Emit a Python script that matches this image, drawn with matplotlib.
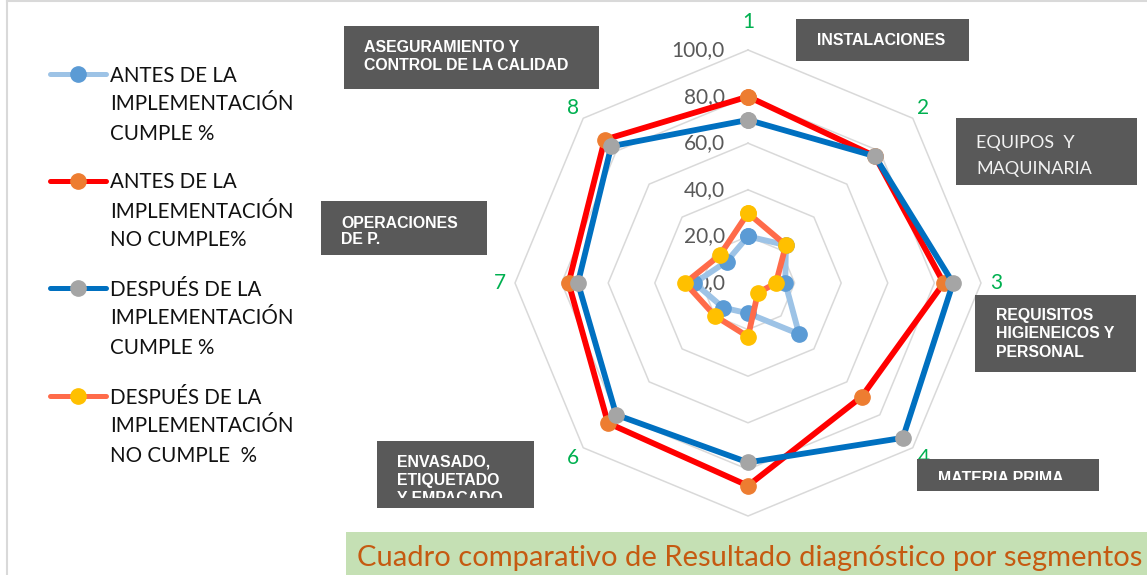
import numpy as np
import matplotlib
matplotlib.use("Agg")
import matplotlib.pyplot as plt
from matplotlib.patches import Rectangle
from matplotlib.lines import Line2D
from matplotlib.transforms import offset_copy, Bbox

# ===== Dati =====
ejes = ["1", "2", "3", "4", "5", "6", "7", "8"]
antes_cumple = [20, 23, 16, 31, 13, 15, 23, 13]
antes_no_cumple = [80, 77, 84, 69, 87, 85, 77, 87]
despues_cumple = [70, 77, 88, 94, 77, 80, 73, 83]
despues_no_cumple = [30, 23, 12, 6, 23, 20, 27, 17]
niveles = [20, 40, 60, 80, 100]
etiquetas_r = ["0,0", "20,0", "40,0", "60,0", "80,0", "100,0"]

series = [
    ("ANTES DE LA\nIMPLEMENTACIÓN\nCUMPLE %", antes_cumple, "#9DC3E6", "#5B9BD5"),
    ("ANTES DE LA\nIMPLEMENTACIÓN\nNO CUMPLE%", antes_no_cumple, "#FF0000", "#ED7D31"),
    ("DESPUÉS DE LA\nIMPLEMENTACIÓN\nCUMPLE %", despues_cumple, "#0070C0", "#A5A5A5"),
    ("DESPUÉS DE LA\nIMPLEMENTACIÓN\nNO CUMPLE  %", despues_no_cumple, "#FF6B4A", "#FFC000"),
]

W, H = 1147, 575


def fx(x):
    return x / W


def fy(y):
    return 1 - y / H


fig = plt.figure(figsize=(W / 100, H / 100), dpi=100)
fig.patch.set_facecolor("white")

# bordo del grafico
fig.add_artist(Line2D([fx(7), fx(7)], [0, 1], transform=fig.transFigure, color="#D9D9D9", lw=1.5))
fig.add_artist(Line2D([fx(7), 1], [fy(1), fy(1)], transform=fig.transFigure, color="#D9D9D9", lw=1.5))

# ===== Radar =====
cx, cy, R = 748, 283, 233
ax = fig.add_axes([fx(cx - R), fy(cy + R), 2 * R / W, 2 * R / H], projection="polar")
ax.set_theta_offset(np.pi / 2)
ax.set_theta_direction(-1)
ax.set_ylim(0, 100)
ax.set_xticks([])
ax.set_yticks([])
ax.grid(False)
ax.spines["polar"].set_visible(False)
ax.patch.set_alpha(0)

n = len(ejes)
theta = np.arange(n) * 2 * np.pi / n
theta_c = np.append(theta, theta[0])

for lv in niveles:
    ax.plot(theta_c, [lv] * (n + 1), color="#D9D9D9", lw=1.1, zorder=1, clip_on=False)

# etichette radiali
tr = offset_copy(ax.transData, fig=fig, x=-23, y=0, units="dots")
for i, lab in enumerate(etiquetas_r):
    ax.text(0, i * 20, lab, transform=tr, ha="right", va="center", fontsize=15,
            color="#595959", family="Lato", zorder=2, clip_on=False)

# numeri degli assi (il 5 finisce sotto il riquadro del titolo: non si vede)
for i, lab in enumerate(ejes):
    if i == 4:
        continue
    r_lab = 112 if i == 0 else 106.5
    ax.text(theta[i], r_lab, lab, ha="center", va="center", fontsize=15,
            color="#00B050", family="Lato", clip_on=False)

for lab, vals, c_line, c_mark in series:
    v = list(vals) + [vals[0]]
    ax.plot(theta_c, v, color=c_line, lw=4.2, marker="o", ms=11, mfc=c_mark,
            mec=c_mark, zorder=3, clip_on=False)

# ===== Legenda =====
leg_y = [74, 181, 288, 396]
for (lab, vals, c_line, c_mark), y0 in zip(series, leg_y):
    fig.add_artist(Line2D([fx(50), fx(106)], [fy(y0), fy(y0)], transform=fig.transFigure,
                          color=c_line, lw=3.6, solid_capstyle="round"))
    fig.add_artist(Line2D([fx(78)], [fy(y0)], transform=fig.transFigure, marker="o",
                          ms=11, mfc=c_mark, mec=c_mark, lw=0))
    for k, line in enumerate(lab.split("\n")):
        fig.text(fx(110), fy(y0 + 7.5 + k * 29), line, ha="left", va="baseline",
                 fontsize=14.8, family="Lato", color="#111111")

# ===== Caselle delle categorie =====
caselle = [
    # (x0, y0, x1, y1, righe, x testo, baseline, passo, grassetto, clip)
    (344, 26, 599, 89, ["ASEGURAMIENTO Y", "CONTROL DE LA CALIDAD"], 364, 52, 18, True, None),
    (796, 19, 969, 61, ["INSTALACIONES"], 817, 45, 18, True, None),
    (956, 118, 1137, 185, ["EQUIPOS  Y", "MAQUINARIA"], 976, 148.5, 25.5, False, None),
    (975, 295, 1136, 372, ["REQUISITOS", "HIGIENEICOS Y", "PERSONAL"], 996, 320, 18.3, True, None),
    (917, 459, 1099, 491, ["MATERIA PRIMA"], 938, 483, 18, True, 480),
    (377, 441, 534, 508, ["ENVASADO,", "ETIQUETADO", "Y EMPACADO"], 397, 466.5, 18.3, True, 498),
    (321, 201, 487, 255, ["OPERACIONES", "DE P."], 341, 228, 16.5, True, None),
]
for x0, y0, x1, y1, righe, xt, base, passo, bold, clip in caselle:
    fig.add_artist(Rectangle((fx(x0), fy(y1)), (x1 - x0) / W, (y1 - y0) / H,
                             transform=fig.transFigure, facecolor="#595959",
                             edgecolor="none", zorder=5))
    for k, riga in enumerate(righe):
        if bold:
            t = fig.text(fx(xt), fy(base + k * passo), riga, ha="left", va="baseline",
                         fontsize=11.4, family="Liberation Sans", weight="bold",
                         color="white", zorder=6)
        else:
            t = fig.text(fx(xt), fy(base + k * passo), riga, ha="left", va="baseline",
                         fontsize=13, family="Lato", color="#F2F2F2", zorder=6)
        if clip is not None:
            t.set_clip_box(Bbox.from_extents(0, H - clip, W, H))
            t.set_clip_on(True)

# ===== Titolo =====
fig.add_artist(Rectangle((fx(346), 0), (W - 346) / W, (575 - 532) / H,
                         transform=fig.transFigure, facecolor="#C5E0B4",
                         edgecolor="none", zorder=5))
fig.text(fx(357), fy(566), "Cuadro comparativo de Resultado diagnóstico por segmentos",
         ha="left", va="baseline", fontsize=21, family="Lato", color="#C55A11", zorder=6)

fig.savefig("out.png", dpi=100)
